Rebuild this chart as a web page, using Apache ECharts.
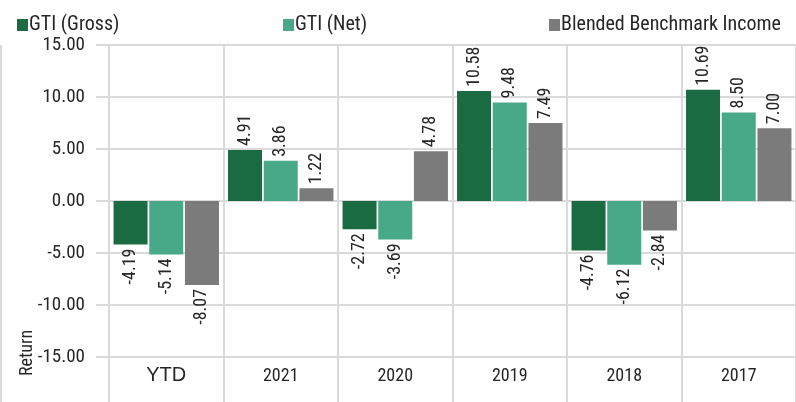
<!DOCTYPE html>
<html><head><meta charset="utf-8">
<script src="https://cdn.jsdelivr.net/npm/echarts@6/dist/echarts.min.js"></script>
<style>html,body{margin:0;padding:0;background:#fff}#c{width:796px;height:402px}</style>
</head><body><div id="c"></div>
<script>
var categories = ['YTD', '2021', '2020', '2019', '2018', '2017'];
var gross = [-4.19, 4.91, -2.72, 10.58, -4.76, 10.69];
var net = [-5.14, 3.86, -3.69, 9.48, -6.12, 8.50];
var bench = [-8.07, 1.22, 4.78, 7.49, -2.84, 7.00];
var seriesNames = ['GTI (Gross)', 'GTI (Net)', 'Blended Benchmark Income'];
var colors = ['#1a6b41', '#47a987', '#7b7b7b'];
var yTicks = [-20, -15, -10, -5, 0, 5, 10, 15];

var FONT = '"Roboto Condensed", "DejaVu Sans Condensed", sans-serif';
var TXT = '#262626';
var GRID = '#dadada';

function mkData(arr) {
  return arr.map(function (v) {
    var neg = v < 0;
    return {
      value: v,
      label: {
        position: neg ? 'bottom' : 'top',
        align: neg ? 'right' : 'left'
      }
    };
  });
}
function mkSeries(i, arr) {
  return {
    name: seriesNames[i], type: 'bar', data: mkData(arr),
    barWidth: 34, barGap: '5%',
    itemStyle: { color: colors[i] },
    label: {
      show: true, rotate: 90, verticalAlign: 'middle', distance: 4,
      fontFamily: FONT, fontSize: 18, color: TXT,
      formatter: function (p) { return p.value.toFixed(2); }
    }
  };
}
function mkLegend(i, left) {
  return {
    data: [seriesNames[i]], left: left, top: 10, itemWidth: 11, itemHeight: 12,
    icon: 'rect',
    textStyle: { fontFamily: FONT, fontSize: 20, color: TXT, padding: [0, 0, 0, -4] }
  };
}
var chart = echarts.init(document.getElementById('c'));
chart.setOption({
  animation: false,
  legend: [mkLegend(0, 12), mkLegend(1, 278), mkLegend(2, 544)],
  grid: { left: 109, right: 0, top: 45, height: 364, containLabel: false, outerBoundsMode: 'none' },
  xAxis: {
    type: 'category', data: categories,
    axisLine: { show: false }, axisTick: { show: false },
    splitLine: { show: true, interval: 0, lineStyle: { color: GRID, width: 2 } },
    axisLabel: {
      inside: true, margin: 24, interval: 0, fontFamily: FONT, fontSize: 18, color: TXT,
      formatter: function (v) { return v === 'YTD' ? '{y|' + v + '}' : v; },
      rich: { y: { fontFamily: '"Liberation Sans", Arial, sans-serif', fontSize: 20, color: TXT } }
    }
  },
  yAxis: {
    type: 'value', min: yTicks[0], max: yTicks[yTicks.length - 1], interval: 5,
    axisLine: { show: true, lineStyle: { color: GRID, width: 2 } },
    axisTick: { show: true, length: 13, lineStyle: { color: GRID, width: 2 } },
    splitLine: { show: true, lineStyle: { color: GRID, width: 2 } },
    axisLabel: {
      margin: 24, fontFamily: FONT, fontSize: 19, color: TXT,
      formatter: function (v) { return v === yTicks[0] ? '' : v.toFixed(2); }
    }
  },
  graphic: [
    { type: 'line', shape: { x1: 1, y1: 45, x2: 1, y2: 402 }, style: { stroke: GRID, lineWidth: 2 } },
    { type: 'text', x: 27, y: 353, rotation: Math.PI / 2,
      style: { text: 'Return', fontFamily: FONT, fontSize: 18, fill: TXT, align: 'center', verticalAlign: 'middle' } }
  ],
  series: [mkSeries(0, gross), mkSeries(1, net), mkSeries(2, bench)]
});
</script></body></html>
